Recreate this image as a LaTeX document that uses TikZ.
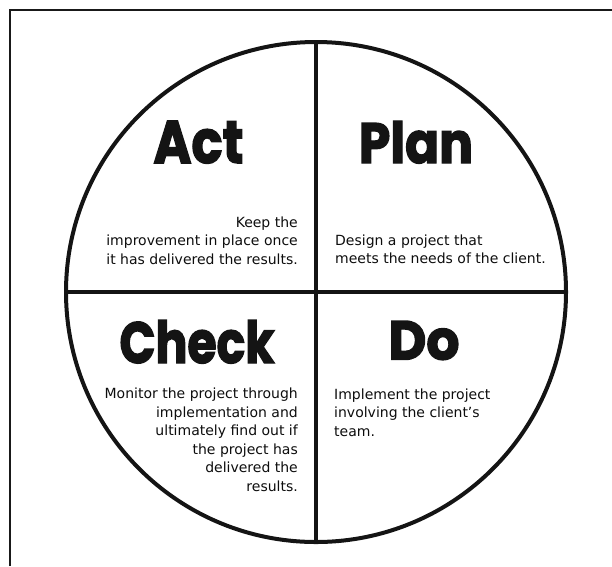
\documentclass[tikz,border=0pt]{standalone}
\usepackage{fontspec}
\usepackage{graphicx}
\newfontfamily\bodyfont{DejaVu Sans}
\newfontfamily\titlefont{Poppins}[FakeBold=2.5]
\newcommand\ttl[3]{\resizebox{#1}{#2}{\titlefont\bfseries #3}}
\begin{document}
\begin{tikzpicture}[x=1pt,y=-1pt,
  frameline/.style={line width=1.8pt,draw=black!90},
  wheel/.style={line width=4pt,draw=black!92},
  title/.style={anchor=base,inner sep=0pt,text=black!92},
  body/.style={inner sep=0pt,text=black!95,font=\bodyfont\fontsize{14}{18.5}\selectfont}]
\useasboundingbox (0,0) rectangle (612,566);
\draw[frameline] (10,566) -- (10,10) -- (612,10);
\coordinate (c) at (316,292);
\coordinate (top) at (316,42);
\coordinate (bot) at (316,542);
\coordinate (lft) at (66,292);
\coordinate (rgt) at (566,292);
\draw[wheel] (c) circle[radius=250];
\draw[wheel] (top) -- (bot);
\draw[wheel] (lft) -- (rgt);
\node[title] (act) at (198.5,163) {\ttl{90pt}{42pt}{Act}};
\node[title] (plan) at (416,163) {\ttl{114pt}{42pt}{Plan}};
\node[title] (check) at (197,363) {\ttl{155pt}{43pt}{Check}};
\node[title] (do) at (424,359.5) {\ttl{71pt}{38.5pt}{Do}};
\node[body,anchor=base east,align=right] (acttxt) at (298,264) {Keep the\\improvement in place once\\it has delivered the results.};
\node[body,anchor=base west,align=left] (plantxt) at (335,263.5) {Design a project that\\meets the needs of the client.};
\node[body,anchor=base east,align=right] (checktxt) at (298,491) {Monitor the project through\\implementation and\\ultimately find out if\\the project has\\delivered the\\results.};
\node[body,anchor=base west,align=left] (dotxt) at (334,436) {Implement the project\\involving the client’s\\team.};
\end{tikzpicture}
\end{document}
